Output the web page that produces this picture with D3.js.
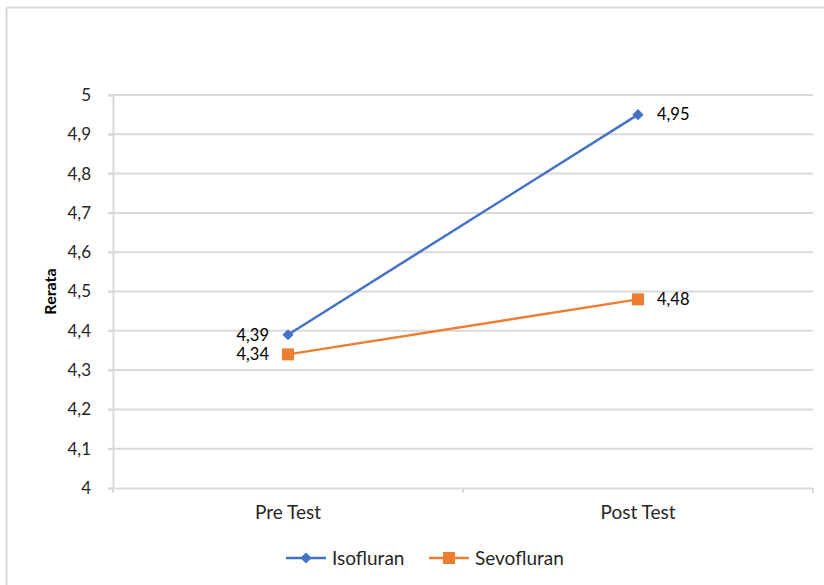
<!DOCTYPE html>
<html><head><meta charset="utf-8">
<script src="https://cdn.jsdelivr.net/npm/d3@7"></script>
<style>body{margin:0;background:#fff}svg{display:block;font-family:Lato,"Liberation Sans",sans-serif}</style>
</head><body><svg id="c" width="824" height="585"></svg>
<script>
const categories = ["Pre Test", "Post Test"];
const isofluran = [4.39, 4.95];
const sevofluran = [4.34, 4.48];
const yTicks = [4, 4.1, 4.2, 4.3, 4.4, 4.5, 4.6, 4.7, 4.8, 4.9, 5];
const seriesNames = ["Isofluran", "Sevofluran"];
const colors = ["#4472C4", "#ED7D31"];

(function () {
const svg = d3.select("#c");
const fmt = v => String(v).replace(".", ",");
const txt = "#262626";
svg.append("rect").attr("x", 6.5).attr("y", 7.5).attr("width", 830).attr("height", 600)
  .attr("fill", "#fff").attr("stroke", "#d9d9d9").attr("stroke-width", 2).attr("rx", 2);

const pLeft = 113, pRight = 813, pTop = 95, pBottom = 488;
const x = d3.scaleBand().domain(categories).range([pLeft, pRight]);
const y = d3.scaleLinear().domain([4, 5]).range([pBottom, pTop]);

// gridlines
svg.append("g").selectAll("line").data(yTicks.slice(1)).join("line")
  .attr("x1", pLeft - 5).attr("x2", pRight).attr("y1", d => y(d)).attr("y2", d => y(d))
  .attr("stroke", "#d9d9d9").attr("stroke-width", 2);

// y axis
const yAxis = svg.append("g").attr("transform", `translate(${pLeft},0)`)
  .call(d3.axisLeft(y).tickValues(yTicks).tickFormat(fmt).tickSize(5).tickPadding(17));
yAxis.select(".domain").attr("stroke", "#d9d9d9").attr("stroke-width", 2);
yAxis.selectAll(".tick line").attr("stroke", "#d9d9d9").attr("stroke-width", 2);
yAxis.selectAll("text").attr("font-size", 17).attr("fill", txt).attr("font-family", "Lato, sans-serif");

// x axis
const xAxis = svg.append("g").attr("transform", `translate(0,${pBottom})`)
  .call(d3.axisBottom(x).tickSize(0).tickPadding(18));
xAxis.select(".domain").attr("stroke", "#d9d9d9").attr("stroke-width", 2);
xAxis.selectAll("text").attr("font-size", 19).attr("fill", txt).attr("font-family", "Lato, sans-serif");
const bounds = [pLeft, pLeft + x.bandwidth(), pRight];
svg.append("g").selectAll("line").data(bounds).join("line")
  .attr("x1", d => d).attr("x2", d => d).attr("y1", pBottom).attr("y2", pBottom + 5)
  .attr("stroke", "#d9d9d9").attr("stroke-width", 2);

// y title
svg.append("text").attr("transform", `translate(56,${(pTop + pBottom) / 2}) rotate(-90)`)
  .attr("text-anchor", "middle").attr("font-size", 16).attr("font-weight", "bold")
  .attr("fill", "#000").text("Rerata");

const cx = c => x(c) + x.bandwidth() / 2;
const line = d3.line().x((d, i) => cx(categories[i])).y(d => y(d));
const data = [isofluran, sevofluran];
data.forEach((vals, s) => {
  svg.append("path").datum(vals).attr("d", line).attr("fill", "none")
    .attr("stroke", colors[s]).attr("stroke-width", 2.5);
  const g = svg.append("g");
  vals.forEach((v, i) => {
    const px = cx(categories[i]), py = y(v);
    if (s === 0) {
      g.append("path").attr("d", d3.symbol(d3.symbolDiamond2, 80)()).attr("transform", `translate(${px},${py})`)
        .attr("fill", colors[s]);
    } else {
      g.append("rect").attr("x", px - 6).attr("y", py - 6).attr("width", 12).attr("height", 12).attr("fill", colors[s]);
    }
    const lx = i === 0 ? px - 19 : px + 19;
    g.append("text").attr("x", lx).attr("y", py).attr("dy", "0.35em")
      .attr("text-anchor", i === 0 ? "end" : "start").attr("font-size", 16.5).attr("fill", "#000")
      .text(fmt(v));
  });
});

// legend
const legX = [286, 429];
seriesNames.forEach((n, s) => {
  const g = svg.append("g").attr("transform", `translate(${legX[s]},558)`);
  g.append("line").attr("x1", 0).attr("x2", 40).attr("stroke", colors[s]).attr("stroke-width", 2.5);
  if (s === 0) g.append("path").attr("d", d3.symbol(d3.symbolDiamond2, 80)()).attr("transform", "translate(20,0)").attr("fill", colors[s]);
  else g.append("rect").attr("x", 14).attr("y", -6).attr("width", 12).attr("height", 12).attr("fill", colors[s]);
  g.append("text").attr("x", 46).attr("dy", "0.35em").attr("font-size", 19).attr("fill", txt).text(n);
});
})();
</script></body></html>
